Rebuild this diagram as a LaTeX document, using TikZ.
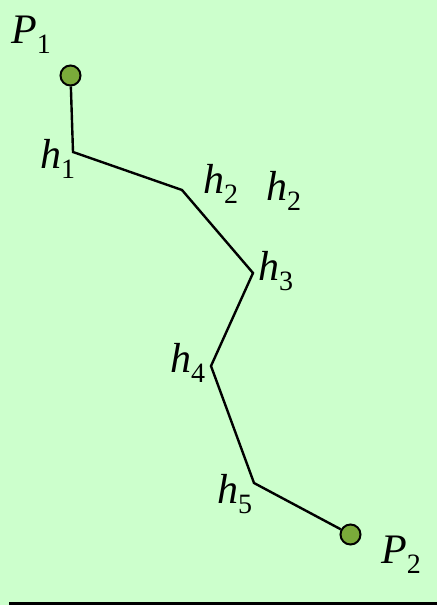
\documentclass[tikz,border=0pt]{standalone}
\usepackage{fontspec}
\setmainfont{Liberation Serif}
\usetikzlibrary{calc}

\definecolor{paleground}{RGB}{204,255,204}
\definecolor{dotgreen}{RGB}{122,170,58}

%% italic letter with a lowered upright index
\newcommand{\varsub}[2]{\textit{#1}\raisebox{-10pt}{\fontsize{28}{32}\selectfont #2}}

\begin{document}
\begin{tikzpicture}[x=1pt, y=-1pt,
  %% broken path between the two points
  route/.style={draw=black, line width=2.4pt, line join=miter},
  %% end points
  endpt/.style={
    circle, draw=black, line width=2pt, fill=dotgreen,
    minimum size=20pt, inner sep=0pt
  },
  %% labels
  lbl/.style={anchor=base west, inner sep=0pt, font=\fontsize{42}{50}\selectfont}
]

%% ================================================================
%% BACKGROUND
%% ================================================================
\fill[paleground] (0,0) rectangle (437,605);
\useasboundingbox (0,0) rectangle (437,605);

%% ================================================================
%% POINTS AND BENDS
%% ================================================================
\node[endpt] (p1dot) at (70.5,75.5) {};
\node[endpt] (p2dot) at (350.5,534.5) {};

\coordinate (bend1) at (73,152);
\coordinate (bend2) at (182,190);
\coordinate (bend3) at (253,273);
\coordinate (bend4) at (211,366);
\coordinate (bend5) at (254,483);

\draw[route] (p1dot) -- (bend1) -- (bend2) -- (bend3) -- (bend4)
  -- (bend5) -- (p2dot);

%% ================================================================
%% LABELS
%% ================================================================
\node[lbl] (p1lbl) at (11,43)  {\varsub{P}{1}};
\node[lbl] (h1lbl) at (40,168) {\varsub{h}{1}};
\node[lbl] (h2lbl) at (203,193) {\varsub{h}{2}};
\node[lbl] (h2dup) at (266,200) {\varsub{h}{2}};
\node[lbl] (h3lbl) at (258,280) {\varsub{h}{3}};
\node[lbl] (h4lbl) at (170,372) {\varsub{h}{4}};
\node[lbl] (h5lbl) at (217,503) {\varsub{h}{5}};
\node[lbl] (p2lbl) at (381,563) {\varsub{P}{2}};

%% ================================================================
%% BOTTOM RULE
%% ================================================================
\coordinate (ruleleft)  at (9,603);
\coordinate (ruleright) at (437,603);
\draw[line width=3pt] (ruleleft) -- (ruleright);

\end{tikzpicture}
\end{document}
